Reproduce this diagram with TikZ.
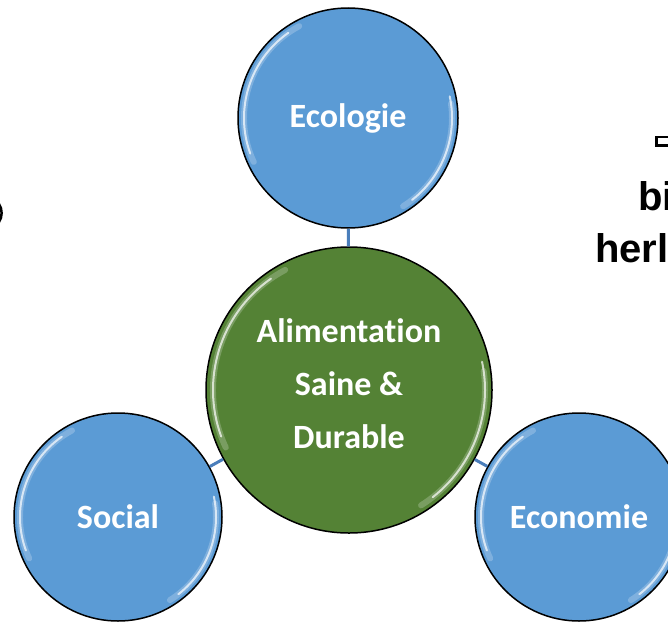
\documentclass[tikz,border=0pt]{standalone}
\usepackage{fontspec}
\setmainfont{Carlito}[Ligatures=NoCommon]
\newfontfamily\arialfont{Liberation Sans}
\definecolor{bluefill}{HTML}{5B9BD5}
\definecolor{greenfill}{HTML}{548235}
\definecolor{connblue}{HTML}{4A7EBB}
\tikzset{
  circ/.style={circle, draw=black, line width=1.5pt, inner sep=0pt, text=white,
    font=\fontsize{34}{53}\selectfont\bfseries, align=center},
  bluecirc/.style={circ, fill=bluefill},
  greencirc/.style={circ, fill=greenfill},
  lbl/.style={text=white, font=\fontsize{34}{53}\selectfont\bfseries, align=center, inner sep=0pt},
  conn/.style={draw=connblue, line width=3pt},
  hlsoft/.style={draw=white, line width=6pt, opacity=0.22, line cap=round},
  hl/.style={draw=white, line width=2pt, opacity=0.7, line cap=round},
  frag/.style={font=\arialfont\fontsize{40}{48}\selectfont\bfseries, inner sep=0pt, text=black}
}
\newcommand\glossy[2]{%
  \draw[hlsoft, shift={(#1.center)}] (-118:#2) arc[start angle=-118, end angle=-205, radius=#2];
  \draw[hlsoft, shift={(#1.center)}] (-8:#2) arc[start angle=-8, end angle=58, radius=#2];
  \draw[hl, shift={(#1.center)}] (-125:#2) arc[start angle=-125, end angle=-200, radius=#2];
  \draw[hl, shift={(#1.center)}] (-12:#2) arc[start angle=-12, end angle=52, radius=#2];
}
\begin{document}
\begin{tikzpicture}[x=1pt, y=-1pt]
\useasboundingbox (0,0) rectangle (668,621);
\clip (0,0) rectangle (668,621);
\fill[white] (0,0) rectangle (668,621);

% nodes
\node[bluecirc, minimum size=220pt] (eco) at (348,118) {Ecologie};
\node[greencirc, minimum size=286pt,
  label={[lbl, yshift=6pt, name=alitext]center:Alimentation\\Saine \&\\Durable}] (ali) at (349,390) {};
\node[bluecirc, minimum size=208pt] (soc) at (118,517) {Social};
\node[bluecirc, minimum size=208pt] (econ) at (579,517) {Economie};

% connectors
\draw[conn] (eco) -- (ali);
\draw[conn] (soc) -- (ali);
\draw[conn] (econ) -- (ali);

% glossy highlights
\glossy{eco}{104}
\glossy{ali}{136}
\glossy{soc}{98}
\glossy{econ}{98}

% clipped fragments of outside text
\node[frag, anchor=base west] (bi) at (638,210) {bi};
\node[frag, anchor=base west] (herl) at (595,262) {herl};
\draw[line width=2.5pt] (670,137) -- (656.5,137) -- (656.5,145.5) -- (670,145.5);
\draw[line width=2.5pt] (-1,204) .. controls (2.5,209) and (2.5,217) .. (-1,222);
\end{tikzpicture}
\end{document}
